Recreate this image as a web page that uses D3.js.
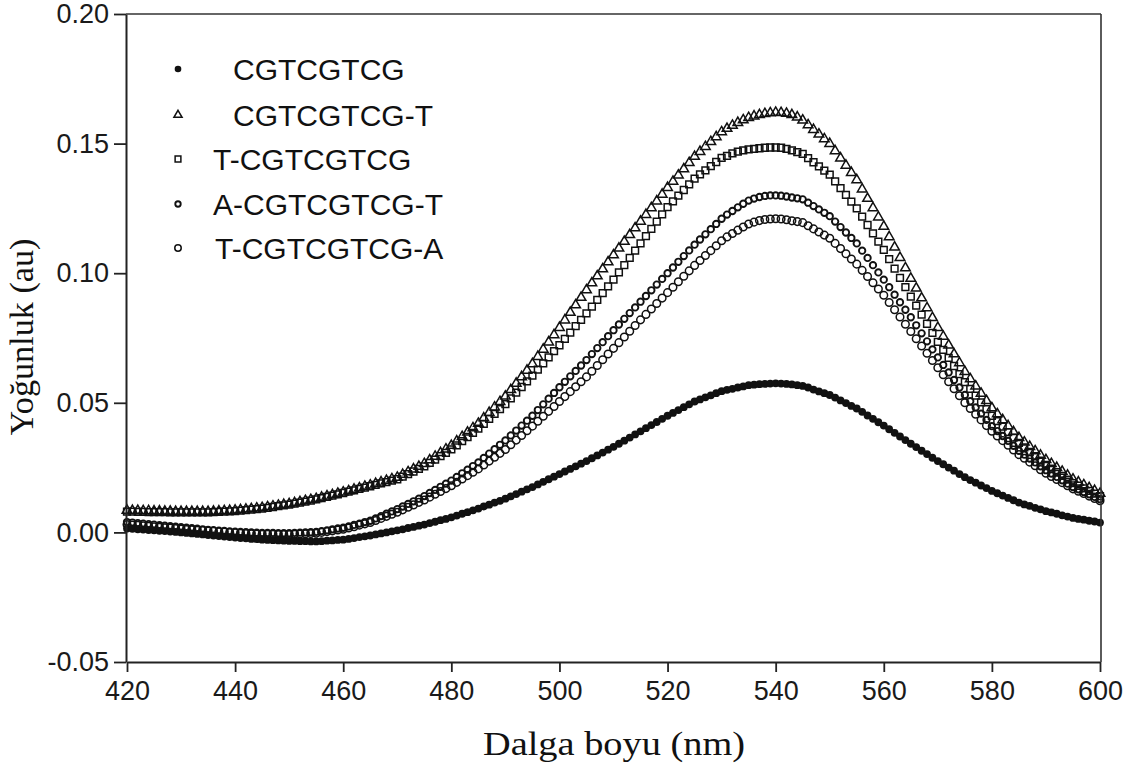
<!DOCTYPE html>
<html>
<head>
<meta charset="utf-8">
<script src="https://cdn.jsdelivr.net/npm/d3@7/dist/d3.min.js"></script>
<style>
  html, body { margin: 0; padding: 0; background: #fff; }
  svg { display: block; }
</style>
</head>
<body>
<svg id="chart" width="1132" height="766"></svg>
<script>
// ---------------- DATA ----------------
const wavelengths = d3.range(420, 601, 1); // nm, 1 nm grid
const xTicks = [420, 440, 460, 480, 500, 520, 540, 560, 580, 600];
const yTicks = [-0.05, 0.00, 0.05, 0.10, 0.15, 0.20];
const seriesNames = ["CGTCGTCG", "CGTCGTCG-T", "T-CGTCGTCG", "A-CGTCGTCG-T", "T-CGTCGTCG-A"];

const sCGTCGTCG = [
 .0015,.0014,.0012,.0011,.0009, .0008,.0006,.0005,.0003,.0002,
 .0000,-.0002,-.0004,-.0006,-.0008, -.0010,-.0012,-.0014,-.0016,-.0018,
 -.0020,-.0022,-.0023,-.0025,-.0026, -.0028,-.0029,-.0030,-.0031,-.0032,
 -.0033,-.0033,-.0034,-.0034,-.0035, -.0035,-.0034,-.0032,-.0031,-.0029,
 -.0028,-.0025,-.0022,-.0018,-.0015, -.0012,-.0008,-.0004,.0000,.0004,
 .0008,.0012,.0017,.0021,.0026, .0030,.0036,.0041,.0047,.0052,
 .0058,.0065,.0072,.0078,.0085, .0092,.0100,.0107,.0115,.0122,
 .0130,.0139,.0148,.0157,.0166, .0175,.0185,.0195,.0205,.0215,
 .0225,.0235,.0245,.0255,.0265, .0275,.0286,.0297,.0308,.0319,
 .0330,.0342,.0354,.0366,.0378, .0390,.0402,.0414,.0426,.0438,
 .0450,.0461,.0472,.0483,.0494, .0505,.0513,.0521,.0529,.0537,
 .0545,.0550,.0554,.0559,.0563, .0568,.0570,.0572,.0573,.0574,
 .0575,.0574,.0573,.0571,.0568, .0565,.0559,.0551,.0544,.0537,
 .0530,.0520,.0509,.0499,.0488, .0478,.0465,.0451,.0438,.0425,
 .0412,.0398,.0384,.0370,.0356, .0342,.0329,.0315,.0302,.0288,
 .0275,.0263,.0250,.0238,.0225, .0213,.0202,.0192,.0181,.0171,
 .0160,.0151,.0142,.0133,.0124, .0115,.0108,.0102,.0095,.0089,
 .0082,.0077,.0072,.0066,.0061, .0056,.0052,.0049,.0045,.0042,
 .0038];

const sCGTCGTCG_T = [
 .0085,.0084,.0084,.0083,.0083, .0082,.0082,.0081,.0081,.0080,
 .0080,.0080,.0080,.0080,.0080, .0080,.0081,.0082,.0083,.0084,
 .0085,.0087,.0089,.0091,.0093, .0095,.0098,.0101,.0104,.0107,
 .0110,.0114,.0118,.0122,.0126, .0130,.0135,.0140,.0145,.0150,
 .0155,.0160,.0166,.0171,.0177, .0182,.0188,.0194,.0200,.0206,
 .0212,.0223,.0233,.0244,.0254, .0265,.0279,.0293,.0307,.0321,
 .0335,.0352,.0369,.0386,.0403, .0420,.0441,.0462,.0483,.0504,
 .0525,.0550,.0575,.0600,.0625, .0650,.0678,.0706,.0734,.0762,
 .0790,.0819,.0848,.0877,.0906, .0935,.0962,.0989,.1016,.1043,
 .1070,.1096,.1122,.1148,.1174, .1200,.1226,.1252,.1278,.1304,
 .1330,.1354,.1378,.1402,.1426, .1450,.1469,.1488,.1507,.1526,
 .1545,.1558,.1570,.1581,.1591, .1600,.1606,.1611,.1615,.1618,
 .1620,.1619,.1616,.1611,.1602, .1590,.1572,.1554,.1536,.1518,
 .1500,.1472,.1444,.1416,.1388, .1360,.1324,.1288,.1252,.1216,
 .1180,.1140,.1100,.1060,.1020, .0980,.0942,.0904,.0866,.0828,
 .0790,.0756,.0722,.0688,.0654, .0620,.0592,.0564,.0536,.0508,
 .0480,.0457,.0434,.0411,.0388, .0365,.0348,.0331,.0314,.0297,
 .0280,.0265,.0250,.0235,.0220, .0205,.0194,.0183,.0172,.0161,
 .0150];

const sT_CGTCGTCG = [
 .0080,.0080,.0079,.0079,.0078, .0078,.0078,.0078,.0077,.0077,
 .0077,.0077,.0077,.0077,.0077, .0077,.0078,.0079,.0080,.0081,
 .0082,.0084,.0086,.0088,.0090, .0092,.0095,.0098,.0101,.0104,
 .0107,.0111,.0115,.0119,.0123, .0127,.0132,.0137,.0142,.0147,
 .0152,.0157,.0162,.0168,.0173, .0178,.0183,.0189,.0194,.0200,
 .0205,.0215,.0225,.0235,.0245, .0255,.0268,.0281,.0294,.0307,
 .0320,.0336,.0352,.0368,.0384, .0400,.0419,.0438,.0457,.0476,
 .0495,.0517,.0539,.0561,.0583, .0605,.0628,.0652,.0675,.0699,
 .0722,.0747,.0771,.0796,.0820, .0845,.0871,.0897,.0923,.0949,
 .0975,.1003,.1031,.1059,.1087, .1115,.1143,.1171,.1199,.1227,
 .1255,.1277,.1299,.1321,.1343, .1365,.1381,.1397,.1413,.1429,
 .1445,.1453,.1462,.1469,.1474, .1478,.1480,.1482,.1484,.1485,
 .1485,.1484,.1480,.1474,.1467, .1460,.1444,.1428,.1412,.1396,
 .1380,.1354,.1328,.1302,.1276, .1250,.1218,.1186,.1154,.1122,
 .1090,.1054,.1018,.0982,.0946, .0910,.0875,.0840,.0805,.0770,
 .0735,.0704,.0673,.0642,.0611, .0580,.0554,.0528,.0502,.0476,
 .0450,.0429,.0408,.0387,.0366, .0345,.0328,.0311,.0294,.0277,
 .0260,.0246,.0232,.0218,.0204, .0190,.0180,.0170,.0160,.0150,
 .0140];

const sA_CGTCGTCG_T = [
 .0040,.0038,.0036,.0034,.0032, .0030,.0028,.0026,.0024,.0022,
 .0020,.0018,.0016,.0014,.0012, .0010,.0009,.0007,.0006,.0004,
 .0003,.0002,.0001,.0000,-.0001, -.0002,-.0002,-.0002,-.0003,-.0003,
 -.0003,-.0002,-.0001,.0000,.0001, .0002,.0005,.0008,.0012,.0015,
 .0018,.0023,.0029,.0034,.0040, .0045,.0054,.0063,.0072,.0081,
 .0090,.0100,.0110,.0120,.0130, .0140,.0152,.0164,.0176,.0188,
 .0200,.0214,.0228,.0242,.0256, .0270,.0287,.0304,.0321,.0338,
 .0355,.0374,.0393,.0412,.0431, .0450,.0472,.0494,.0516,.0538,
 .0560,.0581,.0602,.0623,.0644, .0665,.0688,.0711,.0734,.0757,
 .0780,.0802,.0824,.0846,.0868, .0890,.0912,.0934,.0956,.0978,
 .1000,.1022,.1044,.1066,.1088, .1110,.1130,.1150,.1170,.1190,
 .1210,.1226,.1240,.1254,.1268, .1280,.1288,.1294,.1298,.1300,
 .1300,.1299,.1296,.1292,.1289, .1285,.1272,.1259,.1246,.1233,
 .1220,.1199,.1178,.1157,.1136, .1115,.1087,.1059,.1031,.1003,
 .0975,.0946,.0917,.0888,.0859, .0830,.0799,.0768,.0737,.0706,
 .0675,.0646,.0617,.0588,.0559, .0530,.0506,.0482,.0458,.0434,
 .0410,.0391,.0372,.0353,.0334, .0315,.0300,.0285,.0270,.0255,
 .0240,.0227,.0214,.0201,.0188, .0175,.0166,.0156,.0147,.0137,
 .0128];

const sT_CGTCGTCG_A = [
 .0030,.0028,.0027,.0025,.0024, .0022,.0020,.0018,.0017,.0015,
 .0013,.0011,.0010,.0008,.0007, .0005,.0004,.0002,.0001,-.0001,
 -.0002,-.0003,-.0004,-.0005,-.0006, -.0007,-.0007,-.0007,-.0008,-.0008,
 -.0008,-.0007,-.0006,-.0005,-.0004, -.0003,.0000,.0003,.0006,.0009,
 .0012,.0017,.0022,.0028,.0033, .0038,.0046,.0054,.0062,.0070,
 .0078,.0087,.0097,.0106,.0116, .0125,.0136,.0147,.0158,.0169,
 .0180,.0193,.0206,.0219,.0232, .0245,.0260,.0275,.0290,.0305,
 .0320,.0338,.0356,.0374,.0392, .0410,.0429,.0448,.0467,.0486,
 .0505,.0524,.0543,.0562,.0581, .0600,.0622,.0644,.0666,.0688,
 .0710,.0732,.0754,.0776,.0798, .0820,.0841,.0862,.0883,.0904,
 .0925,.0946,.0967,.0988,.1009, .1030,.1049,.1068,.1087,.1106,
 .1125,.1140,.1153,.1166,.1178, .1190,.1197,.1203,.1207,.1209,
 .1210,.1209,.1206,.1202,.1199, .1195,.1183,.1171,.1159,.1147,
 .1135,.1115,.1095,.1075,.1055, .1035,.1011,.0987,.0963,.0939,
 .0915,.0887,.0859,.0831,.0803, .0775,.0747,.0719,.0691,.0663,
 .0635,.0608,.0581,.0554,.0527, .0500,.0478,.0456,.0434,.0412,
 .0390,.0372,.0354,.0336,.0318, .0300,.0286,.0271,.0257,.0242,
 .0228,.0216,.0204,.0192,.0180, .0168,.0159,.0150,.0140,.0131,
 .0122];

// ---------------- CHART ----------------
const svg = d3.select("#chart");
const mLeft = 127, mRight = 1100, mTop = 14, mBottom = 662;

const x = d3.scaleLinear().domain([420, 600]).range([mLeft, mRight]);
const y = d3.scaleLinear().domain([-0.05, 0.20]).range([mBottom, mTop]);

const ink = "#111";
const sans = "'Liberation Sans', Arial, sans-serif";
const serif = "'Liberation Serif', 'Times New Roman', serif";

const markers = [
  { name: seriesNames[4], data: sT_CGTCGTCG_A, kind: "circleOpen" },
  { name: seriesNames[3], data: sA_CGTCGTCG_T, kind: "diamondSmall" },
  { name: seriesNames[2], data: sT_CGTCGTCG, kind: "square" },
  { name: seriesNames[1], data: sCGTCGTCG_T, kind: "triangle" },
  { name: seriesNames[0], data: sCGTCGTCG, kind: "dot" }
];

function drawMarker(g, kind, scale) {
  const k = scale || 1;
  if (kind === "dot") {
    g.append("circle").attr("r", 3.9 * k).attr("fill", ink);
  } else if (kind === "circleOpen") {
    g.append("circle").attr("r", 3.8 * k).attr("fill", "none")
      .attr("stroke", ink).attr("stroke-width", 1.5);
  } else if (kind === "diamondSmall") {
    g.append("circle").attr("r", 3.2 * k).attr("fill", "none")
      .attr("stroke", ink).attr("stroke-width", 1.9);
  } else if (kind === "square") {
    g.append("path").attr("d", d3.symbol(d3.symbolSquare, 46 * k * k)()).attr("fill", "none")
      .attr("stroke", ink).attr("stroke-width", 1.5);
  } else if (kind === "triangle") {
    g.append("path").attr("d", d3.symbol(d3.symbolTriangle, 40 * k * k)()).attr("fill", "none")
      .attr("stroke", ink).attr("stroke-width", 1.5);
  }
}

const plot = svg.append("g");
markers.forEach(s => {
  const gs = plot.append("g").attr("class", "series");
  s.data.forEach((v, i) => {
    const g = gs.append("g").attr("transform", `translate(${x(wavelengths[i])},${y(v)})`);
    drawMarker(g, s.kind);
  });
});

// axes
const fmtY = d => d3.format(".2f")(d).replace("\u2212", "-");
const yAxis = d3.axisLeft(y).tickValues(yTicks).tickFormat(fmtY).tickSize(12).tickSizeOuter(0).tickPadding(5);
const xAxis = d3.axisBottom(x).tickValues(xTicks).tickFormat(d3.format("d")).tickSize(10).tickSizeOuter(0).tickPadding(9);

const gy = svg.append("g").attr("transform", `translate(${mLeft - 1},0)`).call(yAxis);
const gx = svg.append("g").attr("transform", `translate(0,${mBottom})`).call(xAxis);
[gx, gy].forEach(g => {
  g.select(".domain").attr("stroke", "#222").attr("stroke-width", 2);
  g.selectAll(".tick line").attr("stroke", "#222").attr("stroke-width", 1.8);
  g.selectAll(".tick text").attr("fill", "#1a1a1a").style("font-family", sans).style("font-size", "27px");
});

// top and right frame
svg.append("line").attr("x1", mLeft - 1).attr("x2", mRight + 1).attr("y1", mTop).attr("y2", mTop)
  .attr("stroke", "#333").attr("stroke-width", 1.6);
svg.append("line").attr("x1", mRight + 1).attr("x2", mRight + 1).attr("y1", mTop).attr("y2", mBottom)
  .attr("stroke", "#333").attr("stroke-width", 1.6);

// axis titles
svg.append("text").attr("x", 614).attr("y", 755).attr("text-anchor", "middle")
  .style("font-family", serif).style("font-size", "33px").attr("fill", "#111")
  .attr("textLength", 262).attr("lengthAdjust", "spacingAndGlyphs")
  .text("Dalga boyu (nm)");
svg.append("text").attr("transform", "translate(33,337) rotate(-90)").attr("text-anchor", "middle")
  .style("font-family", serif).style("font-size", "33px").attr("fill", "#111")
  .attr("textLength", 197).attr("lengthAdjust", "spacingAndGlyphs")
  .text("Yoğunluk (au)");

// legend
const legendRows = [
  { label: seriesNames[0], kind: "dot", y: 69, tx: 233 },
  { label: seriesNames[1], kind: "triangle", y: 115, tx: 233 },
  { label: seriesNames[2], kind: "square", y: 159, tx: 213 },
  { label: seriesNames[3], kind: "diamondSmall", y: 204, tx: 213 },
  { label: seriesNames[4], kind: "circleOpen", y: 248, tx: 215 }
];
const lg = svg.append("g");
legendRows.forEach(r => {
  const g = lg.append("g").attr("transform", `translate(178,${r.y})`);
  drawMarker(g, r.kind, 0.85);
  lg.append("text").attr("x", r.tx).attr("y", r.y).attr("dy", "0.36em")
    .style("font-family", sans).style("font-size", "30px").attr("fill", "#111")
    .text(r.label);
});
</script>
</body>
</html>
